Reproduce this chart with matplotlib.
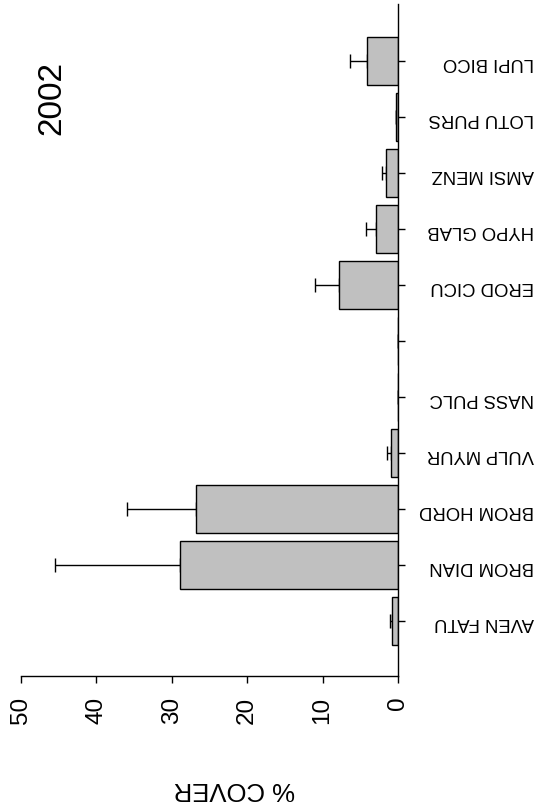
import matplotlib as mpl
mpl.use('Agg')

import numpy as np
import matplotlib.pyplot as plt

plt.rcParams['font.family'] = ['Liberation Sans', 'DejaVu Sans']

# species codes, bottom to top (one empty slot between NASS PULC and EROD CICU)
species = ['AVEN FATU', 'BROM DIAN', 'BROM HORD', 'VULP MYUR', 'NASS PULC', '',
           'EROD CICU', 'HYPO GLAB', 'AMSI MENZ', 'LOTU PURS', 'LUPI BICO']
cover = [0.75, 28.9, 26.8, 0.9, 0.0, 0.0, 7.85, 2.9, 1.55, 0.2, 4.1]
cover_err = [0.3, 16.6, 9.2, 0.6, 0.0, 0.0, 3.1, 1.3, 0.6, 0.1, 2.3]
year = '2002'

pos = np.arange(len(species))

fig = plt.figure(figsize=(5.45, 8.03), dpi=100)
ax = fig.add_axes([21 / 545, 1 - 677 / 803, (398 - 21) / 545, (677 - 5) / 803])

# error bars only towards larger cover
ax.errorbar(cover, pos, xerr=[np.zeros(len(cover)), cover_err], fmt='none',
            ecolor='black', elinewidth=1.0, capsize=5, capthick=1.0, zorder=1)
ax.barh(pos, cover, height=0.87, color='#c0c0c0', edgecolor='black',
        linewidth=1.0, zorder=2)

ax.set_xlim(50, 0)
ax.set_ylim(-0.98, 11.02)

ax.spines['left'].set_visible(False)
ax.spines['top'].set_visible(False)
ax.spines['right'].set_linewidth(1.0)
ax.spines['bottom'].set_linewidth(1.0)

ax.set_xticks([50, 40, 30, 20, 10, 0])
ax.set_xticklabels(['50', '40', '30', '20', '10', '0'], rotation=90, fontsize=17.5)
ax.tick_params(axis='x', direction='out', length=5, width=1, pad=9)

ax.yaxis.tick_right()
ax.set_yticks(pos)
ax.set_yticklabels(species, rotation=180, fontsize=13.3, ha='right', va='center')
ax.tick_params(axis='y', direction='out', length=5, width=1, pad=93)

fig.text(234 / 545, 1 - 789 / 803, '% COVER', rotation=180, fontsize=18.5,
         ha='center', va='center')
fig.text(52 / 545, 1 - 98 / 803, year, rotation=90, fontsize=24,
         ha='center', va='center')

plt.savefig('out.png', dpi=100, facecolor='white')
